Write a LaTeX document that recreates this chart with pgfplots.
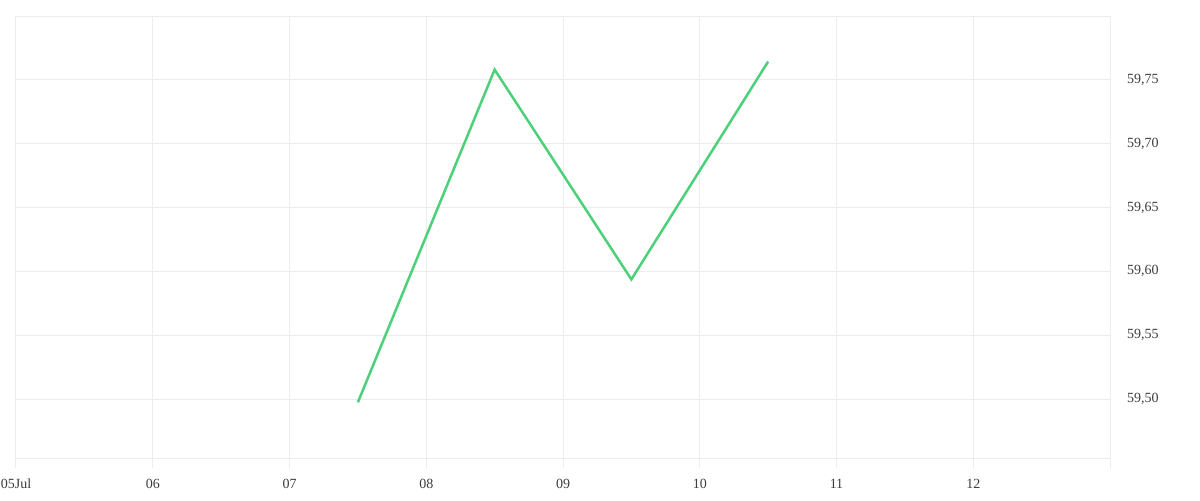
\documentclass[border=0pt]{standalone}
\usepackage{pgfplots}
\pgfplotsset{compat=1.18}
\usepackage{fontspec}
\setmainfont{Liberation Serif}
\definecolor{lineg}{RGB}{76,208,122}
\definecolor{gridc}{RGB}{236,236,236}
\definecolor{labc}{RGB}{60,60,60}
\begin{document}
\begin{tikzpicture}
\path[use as bounding box] (-8pt,-21pt) rectangle (592pt,229pt);
\begin{axis}[
    scale only axis, width=547pt, height=221pt,
    xmin=5, xmax=13, ymin=59.4538, ymax=59.80,
    xtick={5,6,...,13},
    xticklabels={05Jul,06,07,08,09,10,11,12,},
    ytick={59.50,59.55,...,59.80},
    yticklabels={59{,}50,59{,}55,59{,}60,59{,}65,59{,}70,59{,}75,},
    ytick pos=right, xtick pos=bottom,
    tick align=outside,
    major tick length=5pt,
    y tick style={draw=none},
    x tick style={draw=gridc, line width=0.5pt},
    grid=major, grid style={draw=gridc, line width=0.5pt},
    axis line style={draw=gridc, line width=0.5pt},
    tick label style={font=\fontsize{7}{8}\selectfont, text=labc},
    xticklabel style={yshift=-2pt},
    yticklabel style={anchor=west, xshift=0pt},
]
\addplot[lineg, line width=1.25pt, no marks] coordinates {
    (7.5,59.4974) (8.5,59.7580) (9.5,59.5937) (10.5,59.7643)
};
\end{axis}
\end{tikzpicture}
\end{document}
